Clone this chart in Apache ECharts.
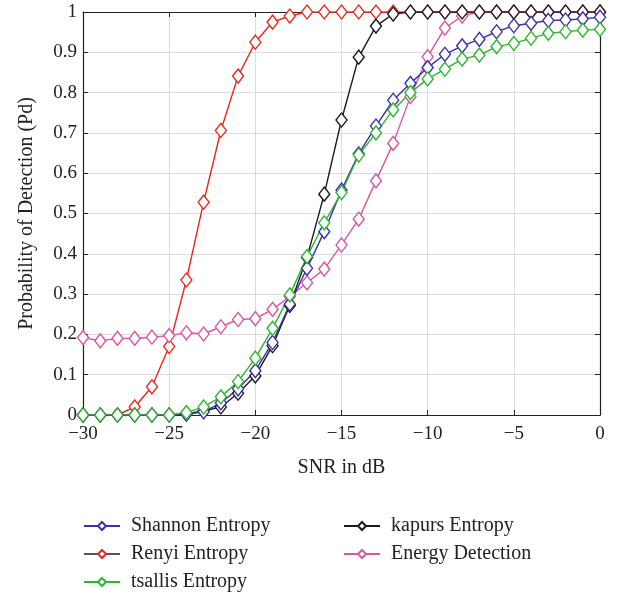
<!DOCTYPE html>
<html><head><meta charset="utf-8">
<script src="https://cdn.jsdelivr.net/npm/echarts@6/dist/echarts.min.js"></script>
<style>html,body{margin:0;padding:0;background:#fff}#c{width:620px;height:597px}</style>
</head><body><div id="c"></div>
<script>
var snr = [-30,-29,-28,-27,-26,-25,-24,-23,-22,-21,-20,-19,-18,-17,-16,-15,-14,-13,-12,-11,-10,-9,-8,-7,-6,-5,-4,-3,-2,-1,0];
var shannon = [0,0,0,0,0,0,0.002,0.008,0.03,0.065,0.11,0.18,0.275,0.364,0.455,0.558,0.648,0.717,0.781,0.823,0.862,0.895,0.916,0.932,0.951,0.966,0.972,0.979,0.98,0.983,0.987];
var renyi = [0,0,0,0.02,0.07,0.17,0.335,0.528,0.706,0.841,0.925,0.975,0.99,1,1,1,1,1,1,1,1,1,1,1,1,1,1,1,1,1,1];
var tsallis = [0,0,0,0,0,0,0.006,0.02,0.045,0.083,0.141,0.215,0.298,0.393,0.477,0.552,0.645,0.7,0.757,0.8,0.834,0.858,0.883,0.893,0.914,0.922,0.935,0.947,0.951,0.955,0.957];
var kapurs = [0,0,0,0,0,0,0.003,0.01,0.02,0.054,0.097,0.172,0.272,0.391,0.548,0.732,0.888,0.965,0.995,1,1,1,1,1,1,1,1,1,1,1,1];
var energy = [0.192,0.184,0.19,0.19,0.193,0.197,0.204,0.201,0.219,0.237,0.239,0.262,0.294,0.328,0.362,0.422,0.486,0.581,0.674,0.79,0.889,0.96,0.99,1,1,1,1,1,1,1,1];
var xTicks = [-30,-25,-20,-15,-10,-5,0];
var yTicks = [0,0.1,0.2,0.3,0.4,0.5,0.6,0.7,0.8,0.9,1];

var font = '"Liberation Serif", "DejaVu Serif", serif';
function pairs(ys){ return snr.map(function(x,i){ return [x, ys[i]]; }); }
function mk(name, ys, color){
  return {
    name: name, type: 'line', data: pairs(ys),
    symbol: 'diamond', symbolSize: [11, 14],
    lineStyle: { color: color, width: 1.4 },
    itemStyle: { color: '#fff', borderColor: color, borderWidth: 1.4 },
    emphasis: { disabled: true }, animation: false
  };
}
var chart = echarts.init(document.getElementById('c'));
var fmtX = function(v){ return v < 0 ? '\u2212' + Math.abs(v) : String(v); };
var fmtY = function(v){ return String(+(+v).toFixed(1)); };
var legText = { fontFamily: font, fontSize: 20, color: '#222', padding: [0, 0, 0, 6] };
chart.setOption({
  backgroundColor: '#fff',
  animation: false,
  grid: { left: 83, right: 20, top: 12, bottom: 182, containLabel: false },
  xAxis: [{
    type: 'value', min: -30, max: 0, interval: 5,
    axisLine: { show: true, onZero: false, lineStyle: { color: '#222', width: 1.2 } },
    axisTick: { inside: true, length: 5, lineStyle: { color: '#222' } },
    axisLabel: { fontFamily: font, fontSize: 19, color: '#222', margin: 10, formatter: fmtX },
    splitLine: { show: true, lineStyle: { color: '#dcdcdc', width: 1 } },
    name: 'SNR in dB', nameLocation: 'middle', nameGap: 43,
    nameTextStyle: { fontFamily: font, fontSize: 20, color: '#222' }
  }, {
    type: 'value', position: 'top', min: -30, max: 0, interval: 5,
    axisLine: { show: true, onZero: false, lineStyle: { color: '#222', width: 1.2 } },
    axisTick: { inside: true, length: 5, lineStyle: { color: '#222' } },
    axisLabel: { show: false }, splitLine: { show: false }
  }],
  yAxis: [{
    type: 'value', min: 0, max: 1, interval: 0.1,
    axisLine: { show: true, onZero: false, lineStyle: { color: '#222', width: 1.2 } },
    axisTick: { show: true, inside: true, length: 5, lineStyle: { color: '#222' } },
    axisLabel: { fontFamily: font, fontSize: 19, color: '#222', margin: 6, formatter: fmtY },
    splitLine: { show: true, lineStyle: { color: '#dcdcdc', width: 1 } },
    name: 'Probability of Detection (Pd)', nameLocation: 'middle', nameGap: 46,
    nameTextStyle: { fontFamily: font, fontSize: 20, color: '#222' }
  }, {
    type: 'value', position: 'right', min: 0, max: 1, interval: 0.1,
    axisLine: { show: true, onZero: false, lineStyle: { color: '#222', width: 1.2 } },
    axisTick: { show: true, inside: true, length: 5, lineStyle: { color: '#222' } },
    axisLabel: { show: false }, splitLine: { show: false }
  }],
  legend: [{
    orient: 'vertical', left: 78, top: 511, height: 90, itemWidth: 36, itemHeight: 10, itemGap: 8,
    data: ['Shannon Entropy', {name: 'Renyi Entropy', lineStyle: {color: '#555'}}, 'tsallis Entropy'],
    textStyle: legText
  }, {
    orient: 'vertical', left: 338, top: 511, height: 90, itemWidth: 36, itemHeight: 10, itemGap: 8,
    data: ['kapurs Entropy', 'Energy Detection'],
    textStyle: legText
  }],
  series: [
    mk('Renyi Entropy', renyi, '#e8281e'),
    mk('Energy Detection', energy, '#d657a3'),
    mk('kapurs Entropy', kapurs, '#1a1a1a'),
    mk('Shannon Entropy', shannon, '#3d30a6'),
    mk('tsallis Entropy', tsallis, '#2fb52f')
  ]
});
</script></body></html>
